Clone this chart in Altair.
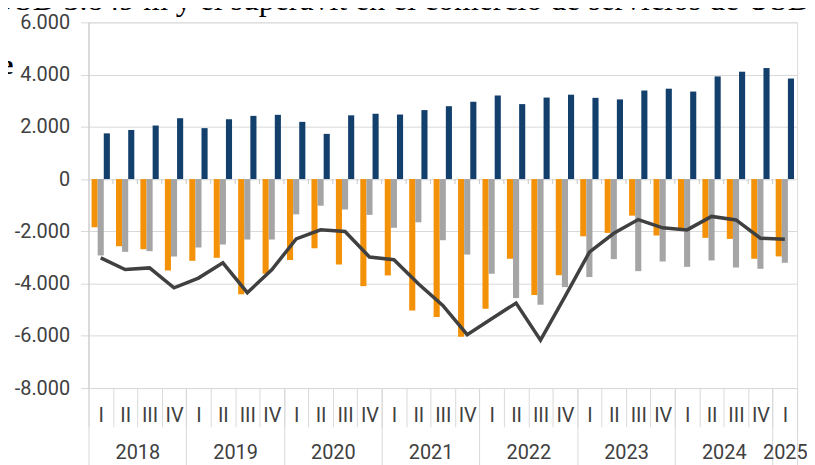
import altair as alt
import pandas as pd
import numpy as np

# ---------------- data ----------------
years = ["2018"] * 4 + ["2019"] * 4 + ["2020"] * 4 + ["2021"] * 4 + \
        ["2022"] * 4 + ["2023"] * 4 + ["2024"] * 4 + ["2025"]
quarters = ["I", "II", "III", "IV"] * 7 + ["I"]

serie_azul = [1750, 1880, 2050, 2330, 1950, 2290, 2420, 2460, 2190, 1730,
              2440, 2500, 2470, 2640, 2790, 2960, 3200, 2870, 3120, 3230,
              3110, 3050, 3390, 3460, 3350, 3930, 4110, 4250, 3849]
serie_naranja = [-1845, -2570, -2685, -3500, -3130, -3015, -4410, -3620, -3100, -2650,
                 -3270, -4100, -3690, -5030, -5280, -6040, -4960, -3050, -4440, -3680,
                 -2190, -2060, -1400, -2160, -1910, -2250, -2290, -3050, -2960]
serie_gris = [-2925, -2785, -2760, -2965, -2620, -2505, -2315, -2315, -1350, -1020,
              -1160, -1370, -1865, -1655, -2340, -2890, -3625, -4555, -4810, -4135,
              -3750, -3065, -3525, -3155, -3360, -3115, -3385, -3435, -3205]
linea_saldo = [-3015, -3460, -3400, -4160, -3790, -3205, -4350, -3475, -2290, -1945,
               -2005, -2985, -3085, -4010, -4835, -5955, -5345, -4745, -6165, -4500,
               -2800, -2075, -1550, -1865, -1945, -1430, -1565, -2265, -2305]

series_names = ["naranja", "gris", "azul"]
series_colors = ["#f39208", "#a5a5a5", "#123f6b"]
line_color = "#404040"

y_ticks = [-8000, -6000, -4000, -2000, 0, 2000, 4000, 6000]

texto_superior = "USD 3.849 m y el superávit en el comercio de servicios de USD"
texto_lateral = "e"

# ---------------- tables ----------------
keys = [f"{y}-{q}" for y, q in zip(years, quarters)]
rows = []
for name, vals in zip(series_names, [serie_naranja, serie_gris, serie_azul]):
    for k, v in zip(keys, vals):
        rows.append({"key": k, "serie": name, "value": v})
df_bars = pd.DataFrame(rows)
df_line = pd.DataFrame({"key": keys, "value": linea_saldo})
df_zero = pd.DataFrame({"key": keys[1:]})

year_names = list(dict.fromkeys(years))
counts = [years.count(y) for y in year_names]
bounds = [0] + [int(c) for c in np.cumsum(counts)]
mids = [(a + b) / 2 for a, b in zip(bounds[:-1], bounds[1:])]
df_bounds = pd.DataFrame({"pos": bounds})
df_mids = pd.DataFrame({"pos": mids})
year_expr = " : ".join(f"datum.value == {m} ? '{y}'" for m, y in zip(mids, year_names)) + " : ''"

FONT = "Roboto"
LABEL_COLOR = "#404040"
GRID = "#d9d9d9"
W, H = 713, 368
N = len(keys)

xscale = alt.Scale(domain=keys, paddingInner=0, paddingOuter=0)
yscale = alt.Scale(domain=[-8000, 6000], nice=False, zero=False)

bars = alt.Chart(df_bars).mark_bar().encode(
    x=alt.X("key:N", sort=keys, scale=xscale, title=None,
            axis=alt.Axis(orient="bottom", tickBand="extent", ticks=True, tickSize=39,
                          tickColor=GRID, tickWidth=1, domain=False, grid=False,
                          labelExpr="split(datum.value, '-')[1]", labelAngle=0,
                          labelFont=FONT, labelFontSize=20, labelColor=LABEL_COLOR,
                          labelPadding=-21, labelBaseline="top")),
    xOffset=alt.XOffset("serie:N", sort=series_names,
                        scale=alt.Scale(domain=series_names, paddingInner=0, paddingOuter=0.5)),
    y=alt.Y("value:Q", scale=yscale, title=None,
            axis=alt.Axis(values=y_ticks, grid=True, gridColor=GRID, gridWidth=1,
                          domain=True, domainColor="#c8c8c8", domainWidth=1,
                          ticks=True, tickSize=8, tickColor=GRID,
                          labelExpr="(datum.value < 0 ? '-' : '') + replace(format(abs(datum.value), ','), ',', '.')",
                          labelFont=FONT, labelFontSize=20, labelColor=LABEL_COLOR,
                          labelPadding=11)),
    color=alt.Color("serie:N", scale=alt.Scale(domain=series_names, range=series_colors), legend=None),
)

line = alt.Chart(df_line).mark_line(color=line_color, strokeWidth=3.5, strokeJoin="miter").encode(
    x=alt.X("key:N", sort=keys, scale=xscale),
    y=alt.Y("value:Q", scale=yscale),
)

zero_ticks = alt.Chart(df_zero).mark_rule(color="#c8c8c8", strokeWidth=1).encode(
    x=alt.X("key:N", sort=keys, scale=xscale, bandPosition=0),
    y=alt.datum(0),
    y2=alt.datum(-190),
)

inner = alt.layer(bars, line, zero_ticks)

pscale = alt.Scale(domain=[0, N], nice=False, zero=False)

year_ticks = alt.Chart(df_bounds).mark_point(opacity=0).encode(
    x=alt.X("pos:Q", scale=pscale, title=None,
            axis=alt.Axis(orient="bottom", values=bounds, labels=False, domain=False, grid=False,
                          ticks=True, tickSize=80, tickColor=GRID, tickWidth=1)),
    y=alt.datum(-8000),
)

year_labels = alt.Chart(df_mids).mark_point(opacity=0).encode(
    x=alt.X("pos:Q", scale=pscale, title=None,
            axis=alt.Axis(orient="bottom", values=mids, labelExpr=year_expr, ticks=False, tickSize=0,
                          domain=False, grid=False, labelFont=FONT, labelFontSize=20,
                          labelColor=LABEL_COLOR, labelPadding=55, labelBaseline="top",
                          labelAngle=0, labelOverlap=False, labelFlush=False)),
    y=alt.datum(-8000),
)

top_text = alt.Chart(pd.DataFrame({"t": [texto_superior]})).mark_text(
    align="left", baseline="alphabetic", font="Liberation Serif", fontSize=32, color="black"
).encode(x=alt.value(-97), y=alt.value(-12), text="t:N")

side_text = alt.Chart(pd.DataFrame({"t": [texto_lateral]})).mark_text(
    align="left", baseline="alphabetic", font="Liberation Serif", fontSize=28,
    fontWeight="bold", color="black"
).encode(x=alt.value(-88), y=alt.value(52), text="t:N")

chart = alt.layer(inner, year_ticks, year_labels, top_text, side_text).resolve_scale(
    x="independent"
).properties(
    width=W, height=H,
    autosize=alt.AutoSizeParams(type="none"),
    padding={"left": 81, "top": 13, "right": 10, "bottom": 76},
).configure_view(stroke=None).configure(background="white")

chart.save("out.html", embed_options={"renderer": "svg", "actions": False})
